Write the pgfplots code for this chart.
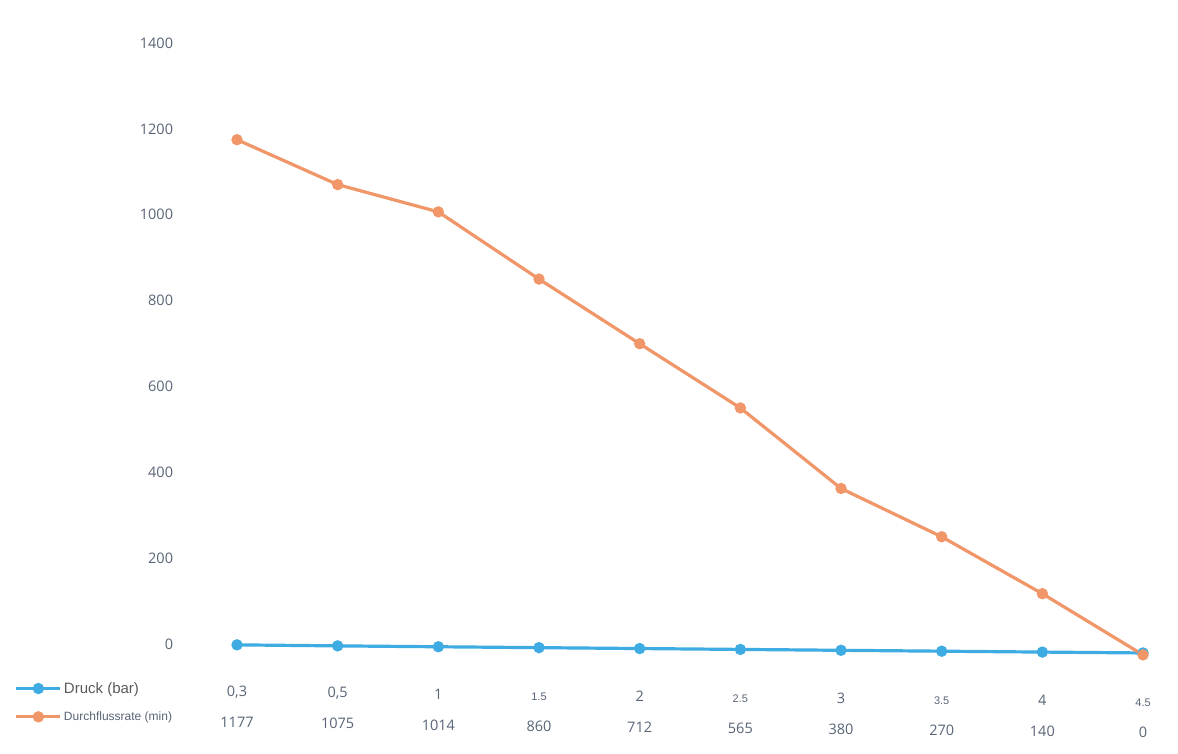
\documentclass[border=0pt]{standalone}
\usepackage{pgfplots}
\pgfplotsset{compat=1.18}
\usepackage{fontspec}
\setmainfont{Open Sans}
\newfontfamily\arialfont{Liberation Sans}
\definecolor{druck}{RGB}{62,172,226}
\definecolor{fluss}{RGB}{240,150,104}
\definecolor{labelgrey}{RGB}{88,100,118}
\newcommand{\half}[1]{{\arialfont\fontsize{11}{13}\selectfont #1}}

\begin{document}
\begin{tikzpicture}
\useasboundingbox (0,0) rectangle (1178pt,754pt);
\begin{axis}[
    at={(237pt,109pt)}, anchor=origin,
    x={(100.67pt,-1.1pt)}, y={(0pt,0.4293pt)},
    xmin=-0.6, xmax=9.35,
    ymin=-30, ymax=1400,
    clip=false,
    axis line style={draw=none},
    major tick length=0pt,
    ytick={0,200,...,1400},
    xtick={0,...,9},
    xticklabels={{0,3},{0,5},1,\half{1.5},2,\half{2.5},3,\half{3.5},4,\half{4.5}},
    extra x ticks={0,...,9},
    extra x tick labels={1177,1075,1014,860,712,565,380,270,140,0},
    extra x tick style={xticklabel style={yshift=-31pt}},
    ticklabel style={font=\fontsize{14.5}{16}\selectfont, text=labelgrey},
    xticklabel style={anchor=base, yshift=-39pt},
    /pgf/number format/assume math mode=true,
    /pgf/number format/1000 sep={},
    legend style={at={(axis description cs:0,0)}, anchor=north west,
        xshift=-165pt, yshift=-10pt, draw=none, fill=none, row sep=13pt},
    legend cell align=left,
    legend image code/.code={\draw[mark repeat=2,mark phase=2,#1,line width=3.2pt]
        plot coordinates {(0pt,0pt) (22pt,0pt) (44pt,0pt)};},
]
    \addplot[color=druck, line width=3.2pt, mark=*, mark size=4pt]
        coordinates {
            (0,0.3) (1,0.5) (2,1) (3,1.5) (4,2)
            (5,2.5) (6,3) (7,3.5) (8,4) (9,4.5)
        };
    \addlegendentry{\arialfont\fontsize{15}{18}\selectfont\color{black!65} Druck (bar)}
    \addplot[color=fluss, line width=3.2pt, mark=*, mark size=4pt]
        coordinates {
            (0,1177) (1,1075) (2,1014) (3,860) (4,712)
            (5,565) (6,380) (7,270) (8,140) (9,0)
        };
    \addlegendentry{\arialfont\fontsize{12}{14}\selectfont\color{labelgrey} Durchflussrate (min)}
\end{axis}
\end{tikzpicture}
\end{document}
